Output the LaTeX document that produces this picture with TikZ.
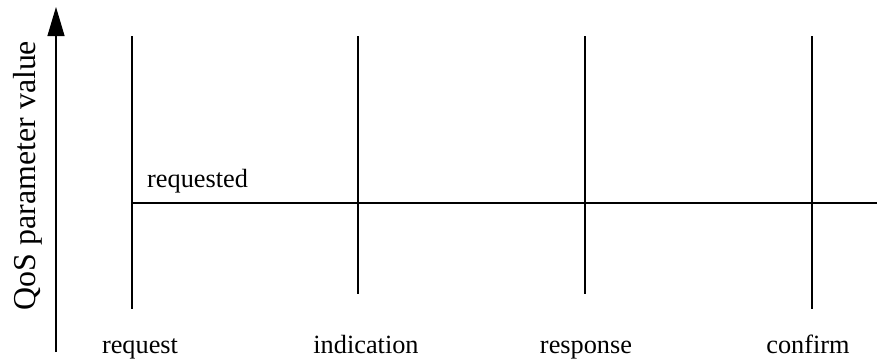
\documentclass[tikz,border=0pt]{standalone}
\usepackage{fontspec}
\setmainfont{Liberation Serif}
\usetikzlibrary{arrows.meta}

\begin{document}
\begin{tikzpicture}[x=1pt, y=1pt,
    >={Triangle[length=29pt, width=17pt]},
    line/.style={line width=1.2pt},
    lbl/.style={font=\fontsize{26.3}{30}\selectfont, inner sep=0pt, anchor=base},
]
\useasboundingbox (0,0) rectangle (877,360);
% value axis on the left
\coordinate (ax0) at (56,8);
\coordinate (ax1) at (56,353);
\draw[->, line] (ax0) -- (ax1);
\node[lbl, rotate=90, font=\fontsize{31.9}{36}\selectfont] (ylab) at (35,184.5)
   {QoS parameter value};
% the four service primitives
\foreach \name/\x/\bot in {req/132/51, ind/358/66, rsp/585/66, cnf/812/51} {
  \coordinate (\name-top) at (\x,324);
  \coordinate (\name-bot) at (\x,\bot);
  \draw[line] (\name-top) -- (\name-bot);
}
\foreach \name/\x/\txt in {req/140/request, ind/366/indication,
                           rsp/586/response, cnf/808/confirm}
  \node[lbl] (\name-lbl) at (\x,7) {\txt};
% requested level
\coordinate (req-lvl) at (132,157);
\coordinate (ind-lvl) at (358,157);
\coordinate (end-lvl) at (877,157);
\draw[line] (req-lvl) -- (ind-lvl) -- (end-lvl);
\node[lbl, anchor=base west] (reqd) at (147,173) {requested};
\end{tikzpicture}
\end{document}
